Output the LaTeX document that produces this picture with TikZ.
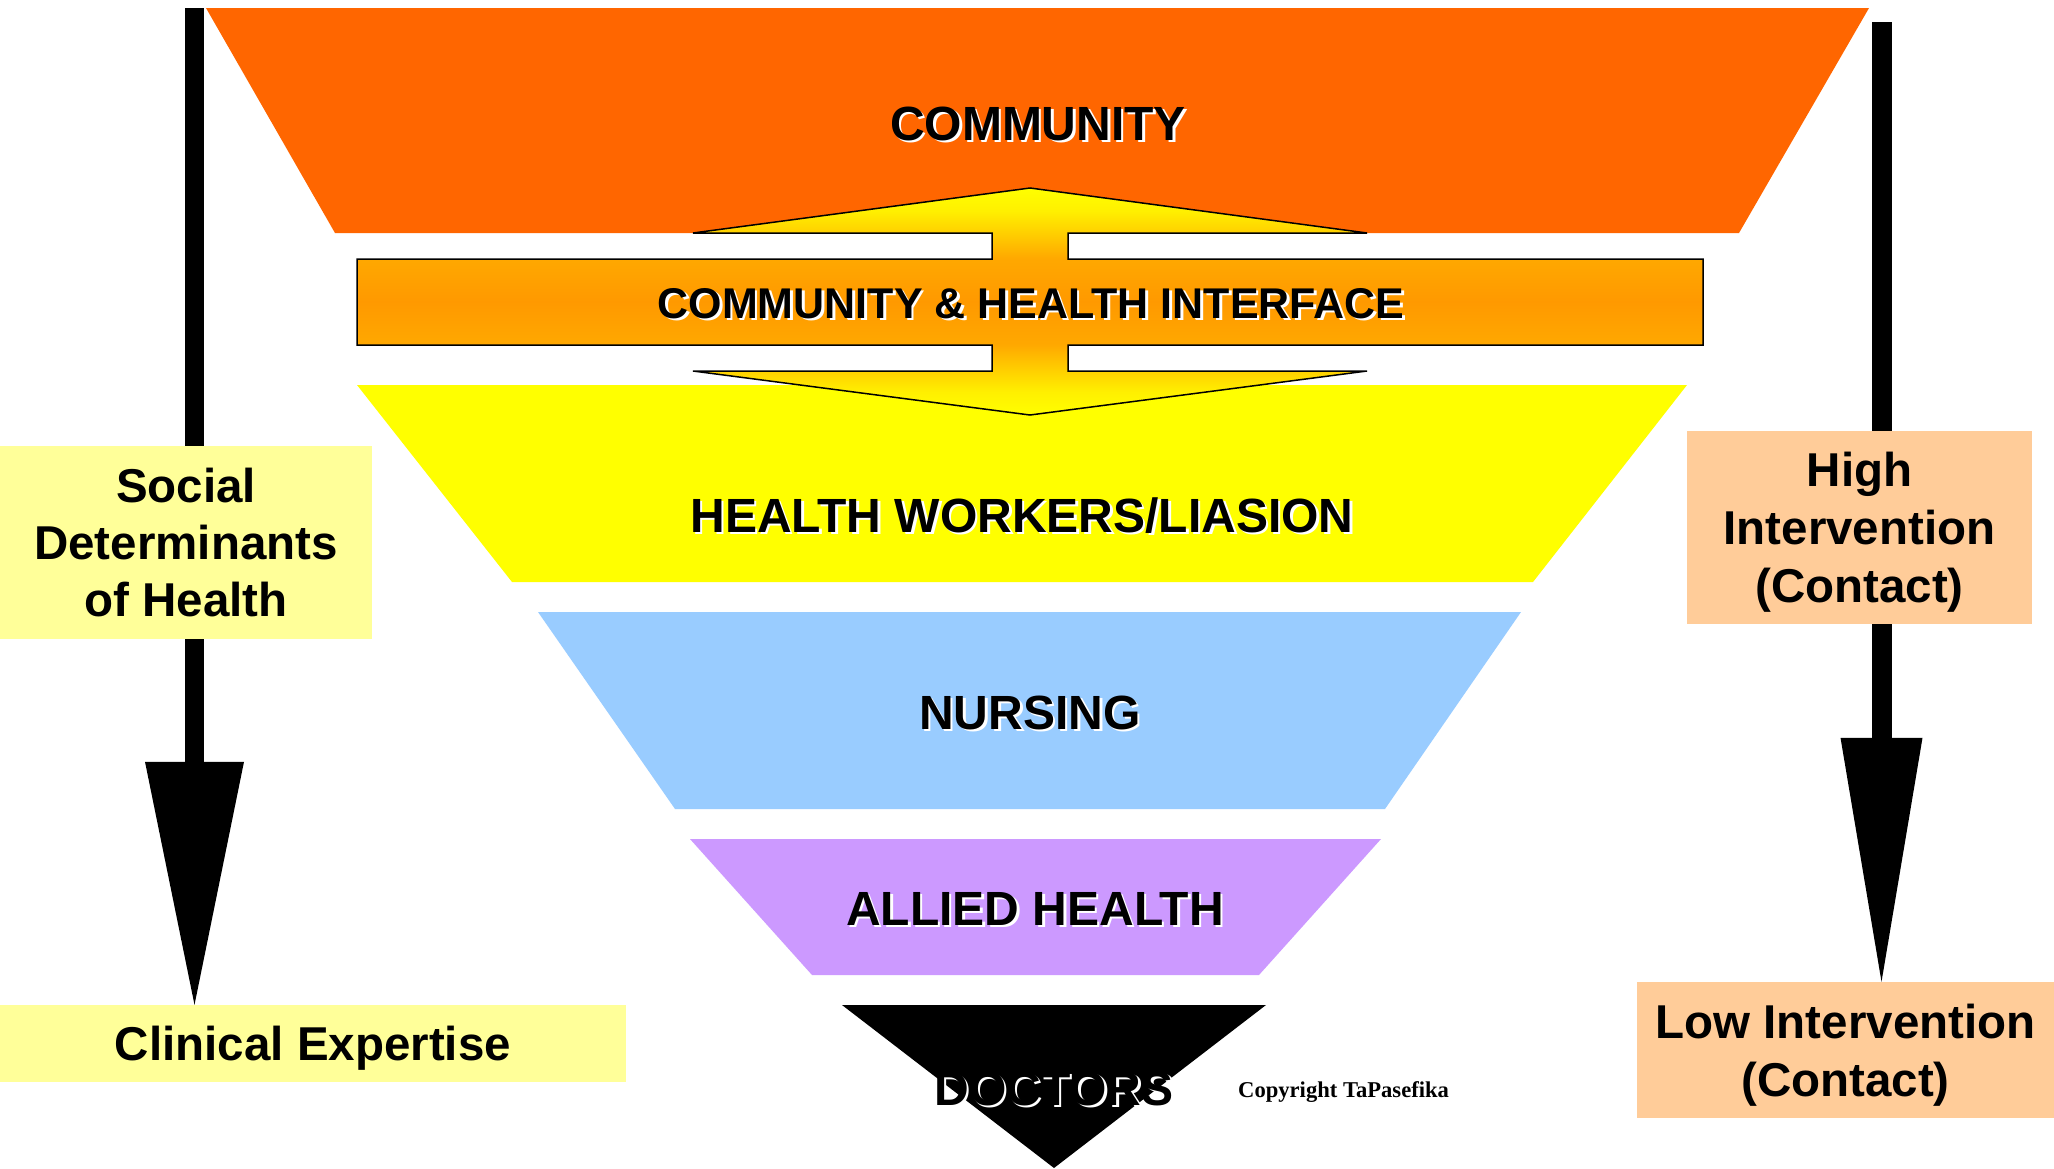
\documentclass[tikz,border=0pt]{standalone}
\usepackage{fontspec}
\setmainfont{Liberation Sans}
\newfontfamily\cpyfont{Liberation Serif}
\usetikzlibrary{arrows.meta}
\definecolor{orng}{RGB}{255,102,0}
\definecolor{hwyel}{RGB}{255,255,0}
\definecolor{nblue}{RGB}{153,204,255}
\definecolor{apurp}{RGB}{204,153,255}
\definecolor{pyel}{RGB}{255,255,153}
\definecolor{peach}{RGB}{255,204,153}
\definecolor{ifY}{RGB}{255,255,0}
\definecolor{ifA}{RGB}{255,240,0}
\definecolor{ifB}{RGB}{255,200,0}
\definecolor{ifC}{RGB}{255,168,0}
\definecolor{ifO}{RGB}{255,153,0}
\pgfdeclareverticalshading{ifshade}{100bp}{color(0bp)=(ifY); color(25bp)=(ifY); color(30bp)=(ifA); color(36bp)=(ifB); color(40.5bp)=(ifC); color(50bp)=(ifO); color(59.5bp)=(ifC); color(64bp)=(ifB); color(70bp)=(ifA); color(75bp)=(ifY); color(100bp)=(ifY)}
\newcommand\shtxt[1]{\rlap{\kern2.5pt\raisebox{-2.5pt}{\textcolor{white}{#1}}}#1}
\begin{document}
\begin{tikzpicture}[x=1pt,y=-1pt,
  lbl/.style={anchor=base,inner sep=0pt,font=\bfseries\fontsize{48}{57}\selectfont},
  sidebox/.style={inner sep=0pt,align=center,font=\bfseries\fontsize{47.5}{57}\selectfont},
  leftbox/.style={sidebox,fill=pyel},
  rightbox/.style={sidebox,fill=peach,text depth=0pt,font=\bfseries\fontsize{47.5}{58}\selectfont},
  bigarrow/.style={draw=black,line width=#1}]
\useasboundingbox (0,0) rectangle (2054,1168);
\fill[white] (0,0) rectangle (2054,1168);
% layers
\fill[orng] (206,8) -- (1869,8) -- (1739,233) -- (335,233) -- cycle;
\fill[hwyel] (357,385) -- (1687,385) -- (1533,582) -- (512,582) -- cycle;
\fill[nblue] (538,612) -- (1521,612) -- (1385,809) -- (675,809) -- cycle;
\fill[apurp] (690,839) -- (1381,839) -- (1259,975) -- (812,975) -- cycle;
\fill[black] (842,1005) -- (1266,1005) -- (1054,1168) -- cycle;
% interface double arrow
\shadedraw[shading=ifshade,draw=black,line width=1.5pt,line join=miter]
  (1030,188) -- (1367,233) -- (1068,233) -- (1068,259) -- (1703,259) -- (1703,345)
  -- (1068,345) -- (1068,371) -- (1367,371) -- (1030,415) -- (693,371) -- (992,371)
  -- (992,345) -- (357,345) -- (357,259) -- (992,259) -- (992,233) -- (693,233) -- cycle;
% side boxes
\node[leftbox,minimum width=626pt,minimum height=77pt,text depth=0pt] (clin) at (313,1043.5) {Clinical Expertise};
\node[rightbox,minimum width=417pt,minimum height=136pt] (low) at (1845.5,1050) {Low Intervention\\(Contact)};
\coordinate (lt) at (194.5,8);
\coordinate (rt) at (1881.5,22);
\draw[bigarrow=19.5pt,-{Triangle[width=99pt,length=243pt,line width=0pt]}] (lt) -- (lt |- clin.north);
\draw[bigarrow=20pt,-{Triangle[width=82pt,length=244pt,line width=0pt]}] (rt) -- (rt |- low.north);
\node[leftbox,minimum width=372pt,minimum height=193pt] (soc) at (186,542.5) {Social\\Determinants\\of Health};
\node[rightbox,minimum width=345pt,minimum height=193pt] (high) at (1859.5,527.5) {High\\Intervention\\(Contact)};
% labels
\node[lbl] (comm) at (1038,140) {\shtxt{COMMUNITY}};
\node[lbl,font=\bfseries\fontsize{43}{50}\selectfont] (iface) at (1031,318) {\shtxt{COMMUNITY \& HEALTH INTERFACE}};
\node[lbl] (hw) at (1022,532) {\shtxt{HEALTH WORKERS/LIASION}};
\node[lbl] (nurs) at (1030,729) {\shtxt{NURSING}};
\node[lbl] (allied) at (1035,925) {\shtxt{ALLIED HEALTH}};
\node[lbl] (doc) at (1054,1105) {\shtxt{DOCTORS}};
\node[anchor=base west,inner sep=0pt,font=\cpyfont\bfseries\fontsize{22.6}{27}\selectfont] (copy) at (1238,1097) {Copyright TaPasefika};
\end{tikzpicture}
\end{document}
